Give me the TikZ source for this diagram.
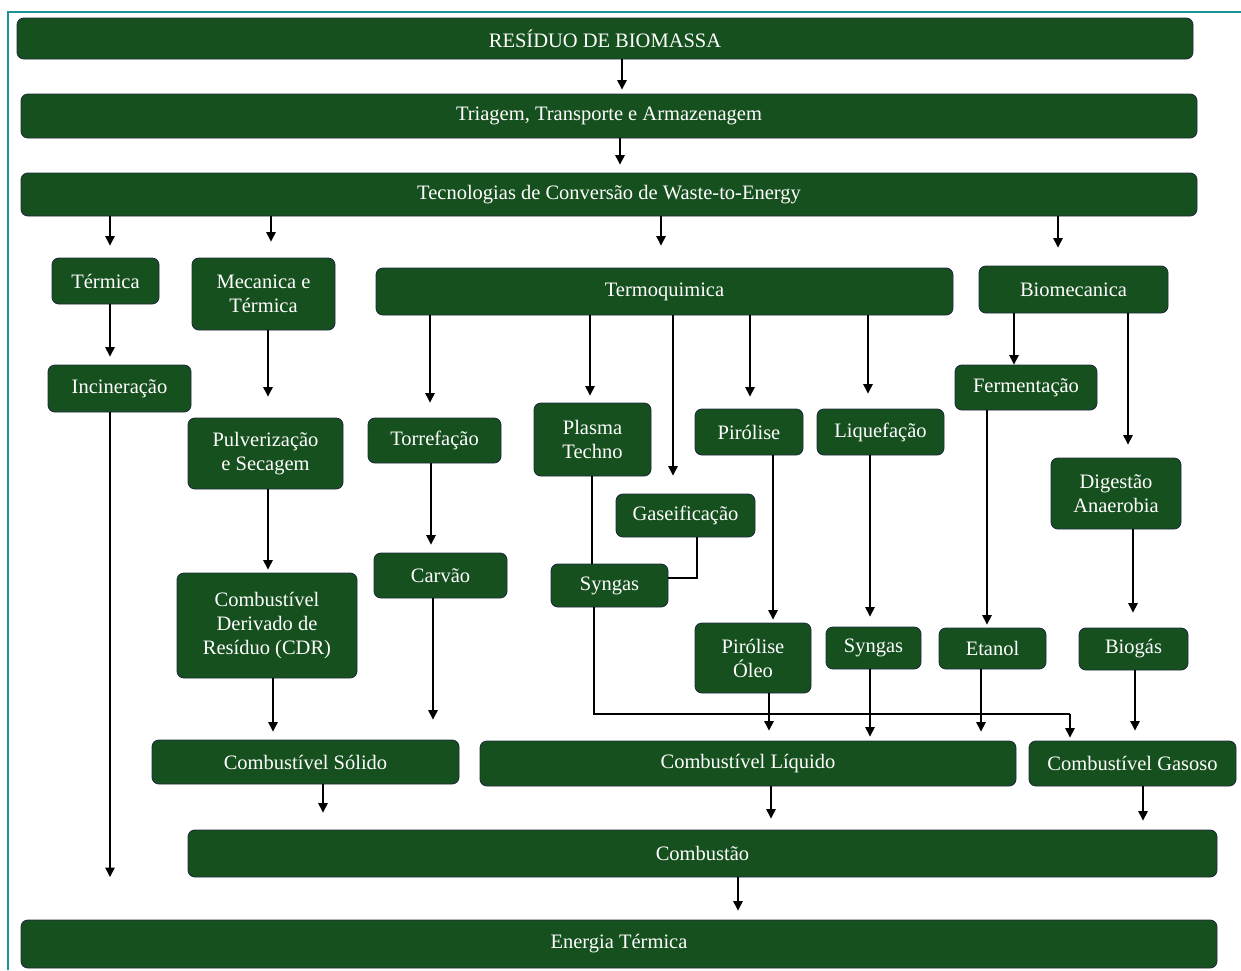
\documentclass[tikz,border=0pt]{standalone}
\usepackage{fontspec}
\setmainfont{Liberation Serif}
\usetikzlibrary{arrows.meta}
\definecolor{boxfill}{HTML}{17501F}
\definecolor{boxline}{HTML}{1C2C3A}
\definecolor{frameteal}{HTML}{1A9494}
\tikzset{
  bx/.style={draw=boxline, line width=0.9pt, fill=boxfill, rounded corners=7pt,
    text=white, align=center, inner sep=0pt,
    font=\fontsize{20.5}{24}\selectfont},
  arr/.style={draw=black, line width=1.3pt, -{Triangle[width=9.5pt,length=9.5pt]}},
  ln/.style={draw=black, line width=1.3pt}
}
\begin{document}
\begin{tikzpicture}[x=1pt,y=-1pt]
\useasboundingbox (0,0) rectangle (1241,970);
\draw[frameteal, line width=1.5pt] (1241,12) -- (8,12) -- (8,970);

\node[bx, minimum width=1176pt, minimum height=41pt] (res) at (605,38.5) {RESÍDUO DE BIOMASSA};
\node[bx, minimum width=1176pt, minimum height=44pt] (tri) at (609,116) {Triagem, Transporte e Armazenagem};
\node[bx, minimum width=1176pt, minimum height=43pt] (tec) at (609,194.5) {Tecnologias de Conversão de Waste-to-Energy};
\node[bx, minimum width=107pt, minimum height=46pt] (term) at (105.5,281) {Térmica};
\node[bx, minimum width=143pt, minimum height=72pt] (mec) at (263.5,294) {Mecanica e\\Térmica};
\node[bx, minimum width=577pt, minimum height=47pt] (tq) at (664.5,291.5) {Termoquimica};
\node[bx, minimum width=189pt, minimum height=47pt] (bio) at (1073.5,289.5) {Biomecanica};
\node[bx, minimum width=143pt, minimum height=47pt] (inc) at (119.5,388.5) {Incineração};
\node[bx, minimum width=155pt, minimum height=71pt] (pul) at (265.5,453.5) {Pulverização\\e Secagem};
\node[bx, minimum width=133pt, minimum height=45pt] (tor) at (434.5,440.5) {Torrefação};
\node[bx, minimum width=117pt, minimum height=73pt] (pla) at (592.5,439.5) {Plasma\\Techno};
\node[bx, minimum width=139pt, minimum height=43pt] (gas) at (685.5,515.5) {Gaseificação};
\node[bx, minimum width=108pt, minimum height=46pt] (pir) at (749,432) {Pirólise};
\node[bx, minimum width=127pt, minimum height=46pt] (liq) at (880.5,432) {Liquefação};
\node[bx, minimum width=142pt, minimum height=45pt] (fer) at (1026,387.5) {Fermentação};
\node[bx, minimum width=130pt, minimum height=71pt] (dig) at (1116,493.5) {Digestão\\Anaerobia};
\node[bx, minimum width=133pt, minimum height=45pt] (car) at (440.5,575.5) {Carvão};
\node[bx, minimum width=180pt, minimum height=105pt] (cdr) at (267,625.5) {Combustível\\Derivado de\\Resíduo (CDR)};
\node[bx, minimum width=117pt, minimum height=43pt] (syn1) at (609.5,585.5) {Syngas};
\node[bx, minimum width=116pt, minimum height=70pt] (pol) at (753,658) {Pirólise\\Óleo};
\node[bx, minimum width=95pt, minimum height=42pt] (syn2) at (873.5,648) {Syngas};
\node[bx, minimum width=107pt, minimum height=41pt] (eta) at (992.5,648.5) {Etanol};
\node[bx, minimum width=109pt, minimum height=42pt] (biog) at (1133.5,649) {Biogás};
\node[bx, minimum width=307pt, minimum height=44pt] (cs) at (305.5,762) {Combustível Sólido};
\node[bx, minimum width=536pt, minimum height=45pt] (cl) at (748,763.5) {Combustível Líquido};
\node[bx, minimum width=207pt, minimum height=45pt] (cg) at (1132.5,763.5) {Combustível Gasoso};
\node[bx, minimum width=1029pt, minimum height=47pt] (comb) at (702.5,853.5) {Combustão};
\node[bx, minimum width=1196pt, minimum height=48pt] (en) at (619,944) {Energia Térmica};

\coordinate (incend) at (110,877);
\coordinate (synbend1) at (594,714);
\coordinate (synbend2) at (1070,714);
\coordinate (gasbend) at (697,578);

\draw[arr, shorten >=4pt] (res.south -| 622,0) -- (tri.north -| 622,0);
\draw[arr, shorten >=8pt] (tri.south -| 620,0) -- (tec.north -| 620,0);
\draw[arr, shorten >=12pt] (tec.south -| 110,0) -- (term.north -| 110,0);
\draw[arr, shorten >=16pt] (tec.south -| 271,0) -- (mec.north -| 271,0);
\draw[arr, shorten >=22pt] (tec.south -| 661,0) -- (tq.north -| 661,0);
\draw[arr, shorten >=18pt] (tec.south -| 1058,0) -- (bio.north -| 1058,0);
\draw[arr, shorten >=8pt] (term.south -| 110,0) -- (inc.north -| 110,0);
\draw[arr] (inc.south -| incend) -- (incend);
\draw[arr, shorten >=21pt] (mec.south -| 268,0) -- (pul.north -| 268,0);
\draw[arr, shorten >=15pt] (tq.south -| 430,0) -- (tor.north -| 430,0);
\draw[arr, shorten >=7pt] (tq.south -| 590,0) -- (pla.north -| 590,0);
\draw[arr, shorten >=18pt] (tq.south -| 673,0) -- (gas.north -| 673,0);
\draw[arr, shorten >=12pt] (tq.south -| 750,0) -- (pir.north -| 750,0);
\draw[arr, shorten >=15pt] (tq.south -| 868,0) -- (liq.north -| 868,0);
\draw[arr] (bio.south -| 1014,0) -- (fer.north -| 1014,0);
\draw[arr, shorten >=13pt] (bio.south -| 1128,0) -- (dig.north -| 1128,0);
\draw[arr, shorten >=3pt] (pul.south -| 268,0) -- (cdr.north -| 268,0);
\draw[arr, shorten >=8pt] (tor.south -| 431,0) -- (car.north -| 431,0);
\draw[ln] (pla.south -| 592,0) -- (syn1.north -| 592,0);
\draw[ln] (gas.south -| gasbend) -- (gasbend) -- (syn1.east |- gasbend);
\draw[ln] (syn1.south -| synbend1) -- (synbend1) -- (synbend2);
\draw[arr, shorten >=3pt] (synbend2) -- (cg.north -| synbend2);
\draw[arr, shorten >=3pt] (pir.south -| 773,0) -- (pol.north -| 773,0);
\draw[arr, shorten >=10pt] (liq.south -| 870,0) -- (syn2.north -| 870,0);
\draw[arr, shorten >=3pt] (fer.south -| 987,0) -- (eta.north -| 987,0);
\draw[arr, shorten >=15pt] (dig.south -| 1133,0) -- (biog.north -| 1133,0);
\draw[arr, shorten >=8pt] (cdr.south -| 273,0) -- (cs.north -| 273,0);
\draw[arr, shorten >=20pt] (car.south -| 433,0) -- (cs.north -| 433,0);
\draw[arr, shorten >=10pt] (pol.south -| 769,0) -- (cl.north -| 769,0);
\draw[arr, shorten >=4pt] (syn2.south -| 870,0) -- (cl.north -| 870,0);
\draw[arr, shorten >=9pt] (eta.south -| 981,0) -- (cl.north -| 981,0);
\draw[arr, shorten >=10pt] (biog.south -| 1135,0) -- (cg.north -| 1135,0);
\draw[arr, shorten >=17pt] (cs.south -| 323,0) -- (comb.north -| 323,0);
\draw[arr, shorten >=11pt] (cl.south -| 771,0) -- (comb.north -| 771,0);
\draw[arr, shorten >=9pt] (cg.south -| 1143,0) -- (comb.north -| 1143,0);
\draw[arr, shorten >=9pt] (comb.south -| 738,0) -- (en.north -| 738,0);
\end{tikzpicture}
\end{document}
